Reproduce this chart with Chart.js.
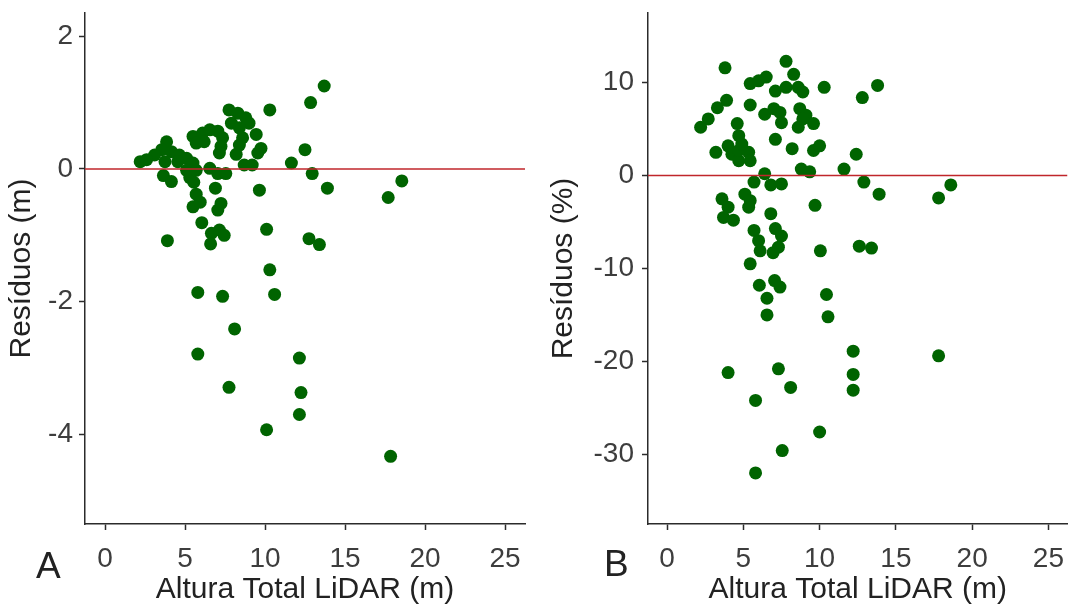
<!DOCTYPE html>
<html>
<head>
<meta charset="utf-8">
<script src="https://cdn.jsdelivr.net/npm/chart.js@4/dist/chart.umd.min.js"></script>
<style>
  html, body { margin: 0; padding: 0; background: #fff; }
  #wrap { position: relative; width: 1074px; height: 605px; overflow: hidden; }
  canvas { position: absolute; top: 0; }
  .tag { position: absolute; font-family: "Liberation Sans", Arial, sans-serif; font-size: 37px; color: #222; line-height: 1; }
</style>
</head>
<body>
<div id="wrap">
  <canvas id="panelA" width="540" height="605" style="left:0;width:540px;height:605px"></canvas>
  <canvas id="panelB" width="534" height="605" style="left:540px;width:534px;height:605px"></canvas>
  <div class="tag" style="left:36px;top:547px">A</div>
  <div class="tag" style="left:604px;top:545px">B</div>
</div>
<script>
// shared x axis ticks
const xTicks = [0, 5, 10, 15, 20, 25];
const xRange = [-1.25, 26.25];

// panel A: residuals in metres  [altura LiDAR, residuo]
const residuosM = [
  [13.7, 1.25], [12.85, 1.0], [10.3, 0.89], [12.5, 0.29], [11.65, 0.09], [12.95, -0.07],
  [13.9, -0.29], [18.55, -0.18], [17.7, -0.43], [9.65, -0.32], [10.1, -0.91], [12.75, -1.05],
  [13.4, -1.14], [3.9, -1.08],
  [6.05, -0.81], [6.65, -0.97], [7.15, -0.92], [7.45, -1.0], [6.6, -1.13],
  [5.5, -0.57], [5.7, -0.38], [5.95, -0.5], [6.9, -0.29], [7.25, -0.52], [7.05, -0.62],
  [3.65, -0.1], [4.15, -0.19], [5.3, -0.13], [5.55, -0.2],
  [7.75, 0.89], [8.3, 0.84], [8.8, 0.77], [9.0, 0.69], [7.9, 0.69], [8.4, 0.62], [8.6, 0.47], [8.4, 0.36],
  [9.45, 0.52], [9.75, 0.31], [9.55, 0.24], [8.2, 0.22],
  [5.5, 0.49], [6.1, 0.54], [6.55, 0.59], [7.05, 0.57], [7.35, 0.47], [7.25, 0.34], [7.15, 0.24],
  [6.2, 0.41], [5.7, 0.39],
  [3.85, 0.41], [3.55, 0.29], [4.15, 0.26], [4.65, 0.21], [5.1, 0.16], [5.5, 0.09], [3.1, 0.21],
  [2.2, 0.11], [2.6, 0.14], [3.75, 0.11], [4.55, 0.11],
  [5.1, -0.02], [5.7, -0.02], [6.55, 0.01], [7.05, -0.07], [7.55, -0.07], [8.7, 0.06], [9.2, 0.06],
  [10.3, -1.52], [5.8, -1.86], [7.35, -1.92], [10.6, -1.89], [8.1, -2.41], [5.8, -2.79],
  [12.15, -2.85], [7.75, -3.29], [12.25, -3.37], [12.15, -3.7], [10.1, -3.93], [17.85, -4.33]
];
const yTicksA = [-4, -2, 0, 2];
const yRangeA = [-5.35, 2.35];

// panel B: residuals in percent
const residuosPct = [
  [3.8, 11.6], [7.8, 12.3], [8.3, 10.9], [5.45, 9.9], [6.0, 10.2], [6.5, 10.6], [7.1, 9.1],
  [7.8, 9.5], [8.6, 9.5], [8.9, 9.0], [10.3, 9.5], [12.8, 8.4], [13.8, 9.7],
  [3.9, 8.1], [3.3, 7.3], [2.7, 6.1], [2.2, 5.2], [5.45, 7.6], [6.4, 6.6], [7.0, 7.2], [7.4, 6.8],
  [7.5, 5.7], [8.7, 7.2], [9.1, 6.5], [9.6, 5.6], [8.6, 5.2], [8.9, 6.1],
  [4.6, 5.6], [4.7, 4.3], [7.1, 3.9], [8.2, 2.9], [9.6, 2.7], [10.0, 3.2], [3.2, 2.5], [4.0, 3.2],
  [4.25, 2.3], [4.7, 1.6], [5.35, 2.5], [5.45, 1.6], [4.7, 2.7], [4.9, 3.4],
  [12.4, 2.3], [6.4, 0.2], [8.8, 0.7], [9.35, 0.4], [11.6, 0.7], [5.7, -0.7], [6.8, -1.0],
  [7.5, -0.9], [12.9, -0.7], [13.9, -2.0],
  [3.6, -2.5], [4.0, -3.4], [3.7, -4.5], [4.35, -4.8], [5.1, -2.0], [5.45, -2.7], [5.35, -3.4],
  [9.7, -3.2], [6.8, -4.1],
  [5.7, -5.9], [6.0, -7.0], [6.1, -8.1], [7.1, -5.7], [7.5, -6.5], [7.3, -7.7], [6.95, -8.3],
  [10.05, -8.1], [12.6, -7.6], [13.4, -7.8],
  [5.45, -9.5], [6.05, -11.8], [7.05, -11.3], [7.4, -12.0], [6.55, -13.2], [10.45, -12.8],
  [6.55, -15.0], [10.55, -15.2],
  [4.0, -21.2], [5.8, -24.2], [5.8, -32.0], [7.3, -20.8], [8.1, -22.8], [7.55, -29.6],
  [10.0, -27.6], [12.2, -18.9], [12.2, -21.4], [12.2, -23.1], [17.8, -19.4], [17.8, -2.4], [18.6, -1.0]
];
const yTicksB = [-30, -20, -10, 0, 10];
const yRangeB = [-37.5, 17.5];

const FONT = "'Liberation Sans', Arial, sans-serif";
const AXIS_COL = "#2b2b2b";

const makePanel = (id, pts, yRange, yTicks, yTitle, yWidth, yPad, titlePad, padRight) => {
  const points = pts.map(([x, y]) => ({ x, y }));
  return new Chart(document.getElementById(id), {
    type: "scatter",
    data: {
      datasets: [
        {
          // zero reference line, drawn on top of the points
          type: "line",
          data: [{ x: xRange[0], y: 0 }, { x: xRange[1], y: 0 }],
          borderColor: "#c0262b",
          borderWidth: 1.5,
          pointRadius: 0,
          order: 0,
        },
        {
          data: points,
          backgroundColor: "#006400",
          borderWidth: 0,
          pointRadius: 6.5,
          order: 1,
        },
      ],
    },
    options: {
      responsive: false,
      animation: false,
      layout: { padding: { top: 13, right: padRight, bottom: 0, left: 0 } },
      plugins: { legend: { display: false }, tooltip: { enabled: false } },
      scales: {
        x: {
          type: "linear",
          min: xRange[0],
          max: xRange[1],
          afterBuildTicks: (s) => { s.ticks = xTicks.map((v) => ({ value: v })); },
          afterFit: (s) => { s.height = 81; s.paddingLeft = 0; s.paddingRight = 0; },
          grid: { drawOnChartArea: false, drawTicks: true, tickLength: 6, tickColor: AXIS_COL, tickWidth: 1.5 },
          border: { display: true, color: AXIS_COL, width: 1.5 },
          ticks: { color: "#3d3d3d", font: { family: FONT, size: 28 }, padding: 12, maxRotation: 0, callback: (v) => String(v) },
          title: { display: true, text: "Altura Total LiDAR (m)", color: "#222", font: { family: FONT, size: 30, lineHeight: 1 }, padding: 0 },
        },
        y: {
          type: "linear",
          min: yRange[0],
          max: yRange[1],
          afterBuildTicks: (s) => { s.ticks = yTicks.map((v) => ({ value: v })); },
          afterFit: (s) => { s.width = yWidth; s.paddingTop = 0; s.paddingBottom = 0; },
          grid: { drawOnChartArea: false, drawTicks: true, tickLength: 6, tickColor: AXIS_COL, tickWidth: 1.5 },
          border: { display: true, color: AXIS_COL, width: 1.5 },
          ticks: { color: "#3d3d3d", font: { family: FONT, size: 28 }, padding: yPad, callback: (v) => String(v) },
          title: { display: true, text: yTitle, color: "#222", font: { family: FONT, size: 30, lineHeight: 1 }, padding: { top: titlePad, bottom: 0 } },
        },
      },
    },
  });
};

makePanel("panelA", residuosM, yRangeA, yTicksA, "Resíduos (m)", 85, 6, 7, 15);
makePanel("panelB", residuosPct, yRangeB, yTicksB, "Resíduos (%)", 108, 8, 9, 4);
</script>
</body>
</html>
